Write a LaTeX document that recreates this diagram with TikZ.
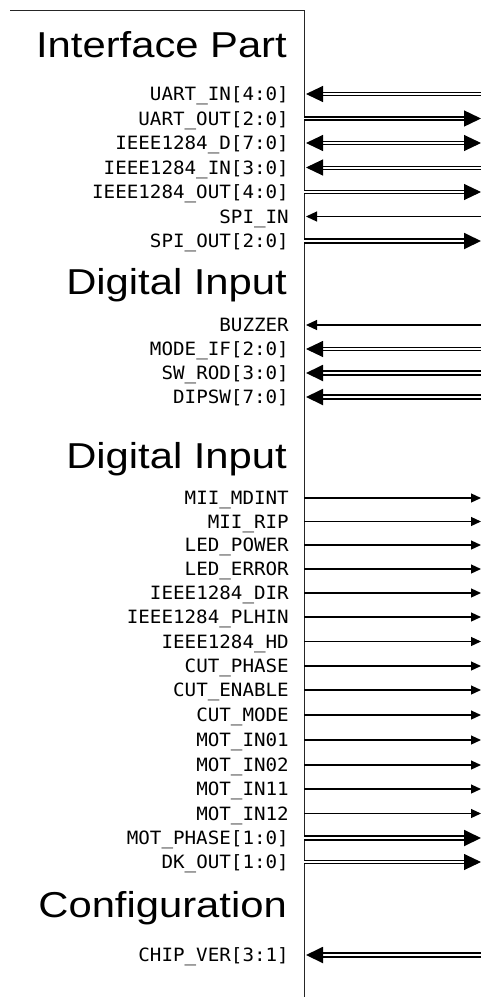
\documentclass[tikz,border=0pt]{standalone}
\usepackage{fontspec}
\usetikzlibrary{arrows.meta}
\newfontfamily\headfont[FakeStretch=1.16]{Liberation Sans}
\newfontfamily\sigfont[FakeStretch=1.05]{DejaVu Sans Mono}
\begin{document}
\begin{tikzpicture}[x=1pt,y=-1pt,
  frame/.style={draw=black!85,line width=1pt},
  head/.style={anchor=base east,inner sep=0pt,font=\headfont\fontsize{36}{40}\selectfont},
  sig/.style={anchor=base east,inner sep=0pt,font=\sigfont\fontsize{18.3}{20}\selectfont},
  bthin/.style={draw,double=white,line width=1pt,double distance=2pt},
  bmed/.style={draw,double=white,line width=1.4pt,double distance=1.8pt},
  bthick/.style={draw,double=white,line width=1.9pt,double distance=1.6pt},
  single/.style={draw,line width=1.2pt},
  btip/.tip={Triangle[length=17pt,width=16pt]},
  stip/.tip={Triangle[length=11pt,width=10pt]},
  otip/.tip={Triangle[length=10pt,width=9pt]},
  busin/.style={bthin,btip-,shorten <=2pt},
  busout/.style={bthin,-btip},
  busoutmed/.style={bmed,-btip},
  busbi/.style={bthin,btip-btip,shorten <=2pt},
  businthick/.style={bthick,btip-,shorten <=2pt},
  busoutthick/.style={bthick,-btip},
  sigin/.style={single,stip-,shorten <=2pt},
  sigout/.style={single,-otip}]
\useasboundingbox (0,0) rectangle (481,997);
\coordinate (fTL) at (10,10);
\coordinate (fTR) at (304,10);
\coordinate (fB) at (304,997);
\draw[frame] (fTL) -- (fTR) -- (fB);
\node[head] (h1) at (287,57) {Interface Part};
\node[head] (h2) at (287,294) {Digital Input};
\node[head] (h3) at (287,468) {Digital Input};
\node[head] (h4) at (287,917) {Configuration};
\foreach \n/\y/\t/\k in {
  uin/94/{UART\_IN[4:0]}/busin,
  uout/118.5/{UART\_OUT[2:0]}/busoutmed,
  pd/143/{IEEE1284\_D[7:0]}/busbi,
  pin/167.5/{IEEE1284\_IN[3:0]}/busin,
  pout/192/{IEEE1284\_OUT[4:0]}/busout,
  spiin/216.5/{SPI\_IN}/sigin,
  spiout/241/{SPI\_OUT[2:0]}/busoutthick,
  buz/325/{BUZZER}/sigin,
  mode/349/{MODE\_IF[2:0]}/busin,
  swrod/373/{SW\_ROD[3:0]}/businthick,
  dipsw/397/{DIPSW[7:0]}/businthick,
  mdint/498/{MII\_MDINT}/sigout,
  rip/521.5/{MII\_RIP}/sigout,
  lpow/545/{LED\_POWER}/sigout,
  lerr/569/{LED\_ERROR}/sigout,
  pdir/593/{IEEE1284\_DIR}/sigout,
  plhin/617/{IEEE1284\_PLHIN}/sigout,
  phd/641.5/{IEEE1284\_HD}/sigout,
  cph/666/{CUT\_PHASE}/sigout,
  cen/690/{CUT\_ENABLE}/sigout,
  cmo/715/{CUT\_MODE}/sigout,
  m01/740/{MOT\_IN01}/sigout,
  m02/765/{MOT\_IN02}/sigout,
  m11/789/{MOT\_IN11}/sigout,
  m12/813.5/{MOT\_IN12}/sigout,
  mph/838/{MOT\_PHASE[1:0]}/busoutthick,
  dko/862/{DK\_OUT[1:0]}/busout,
  chip/955/{CHIP\_VER[3:1]}/businthick}
{
  \node[sig] (\n) at (289,\y+6.5) {\t};
  \coordinate (\n-l) at (304,\y);
  \coordinate (\n-r) at (481,\y);
  \path[\k] (\n-l) -- (\n-r);
}
\end{tikzpicture}
\end{document}
